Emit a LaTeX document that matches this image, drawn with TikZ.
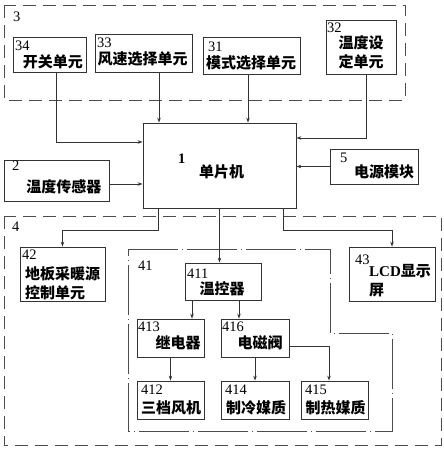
\documentclass[tikz,border=0pt]{standalone}
\usepackage{fontspec}
\setmainfont{Liberation Serif}
\newfontfamily\cjk{Noto Sans CJK SC}
\usetikzlibrary{arrows.meta,positioning,calc}

\begin{document}
\begin{tikzpicture}[x=1pt, y=-1pt,
    box/.style={draw=black!80, line width=0.8pt, inner sep=0pt},
    num/.style={anchor=west, inner sep=0pt, font=\fontsize{14.5}{14.5}\selectfont},
    txt/.style={inner sep=0pt, align=center, font=\cjk\bfseries\fontsize{15}{19}\selectfont},
    grp/.style={draw=black!70, line width=1pt, dash pattern=on 13pt off 7pt},
    subgrp/.style={draw=black!70, line width=0.9pt, dash pattern=on 50pt off 4pt on 1pt off 4pt},
    arr/.style={-{Stealth[length=5pt,width=3.5pt]}, draw=black!80, line width=0.7pt}
]
\useasboundingbox (0,0) rectangle (444,450);

% input group
\draw[grp] (4,5) rectangle (405,100);
\node[num] (n3) at (13,17) {3};
\node[box, minimum width=73pt, minimum height=35pt] (b34) at (49.5,54.5) {};
\node[num] (n34) at (15,46) {34};
\node[txt] (t34) at (53,62) {开关单元};
\node[box, minimum width=97pt, minimum height=38pt] (b33) at (143.5,53) {};
\node[num] (n33) at (97,43) {33};
\node[txt] (t33) at (142.5,59) {风速选择单元};
\node[box, minimum width=97pt, minimum height=37pt] (b31) at (251.5,55.5) {};
\node[num] (n31) at (208,47) {31};
\node[txt] (t31) at (251,63) {模式选择单元};
\node[box, minimum width=70pt, minimum height=54pt] (b32) at (361,47) {};
\node[num] (n32) at (327,27.5) {32};
\node[txt] (t32) at (361,52.5) {温度设\\定单元};

% controller
\node[box, minimum width=153pt, minimum height=85pt] (b1) at (219.5,165.5) {};
\node[num, font=\bfseries\fontsize{14.5}{14.5}\selectfont] (n1) at (178,159) {1};
\node[txt] (t1) at (221.5,172) {单片机};
\node[box, minimum width=105pt, minimum height=41pt] (b2) at (56.5,180.5) {};
\node[num] (n2) at (12,166) {2};
\node[txt] (t2) at (64,187) {温度传感器};
\node[box, minimum width=88pt, minimum height=35pt] (b5) at (374,166.5) {};
\node[num] (n5) at (340,158) {5};
\node[txt] (t5) at (384,172) {电源模块};

\draw[arr] ([xshift=6.5pt]b34.south) |- ([yshift=23.5pt]b1.west);
\draw[arr] ([xshift=15.5pt]b33.south) -- ([xshift=15.5pt]b33.south |- b1.north);
\draw[arr] ([xshift=-3.5pt]b31.south) -- ([xshift=-3.5pt]b31.south |- b1.north);
\draw[arr] ([xshift=5pt]b32.south) |- ([yshift=27.5pt]b1.east);
\draw[arr] ([yshift=-3.5pt]b2.east) -- ([yshift=-3.5pt]b2.east -| b1.west);
\draw[arr] (b5.west) -- (b5.west -| b1.east);

% output group
\draw[grp] (4,216) rectangle (441,445);
\node[num] (n4) at (12,227) {4};
\node[box, minimum width=85pt, minimum height=54pt] (b42) at (62.5,274) {};
\node[num] (n42) at (22,255) {42};
\node[txt, align=left, anchor=west] (t42) at (25,283.5) {地板采暖源\\控制单元};
\node[box, minimum width=86pt, minimum height=54pt] (b43) at (392,274) {};
\node[num] (n43) at (355,260) {43};
\node[txt, align=left, anchor=west] (t43) at (369,281) {{\rmfamily LCD}显示\\屏};

\draw[subgrp] (128,249) -- (330,249) -- (330,333) -- (392,333) -- (392,431) -- (128,431) -- cycle;
\node[num] (n41) at (138,265.5) {41};
\node[box, minimum width=76pt, minimum height=37pt] (b411) at (223,281.5) {};
\node[num] (n411) at (187,274) {411};
\node[txt] (t411) at (222,289) {温控器};
\node[box, minimum width=67pt, minimum height=38pt] (b413) at (170.5,338) {};
\node[num] (n413) at (138,327) {413};
\node[txt] (t413) at (178,343) {继电器};
\node[box, minimum width=68pt, minimum height=38pt] (b416) at (255,338) {};
\node[num] (n416) at (222,327) {416};
\node[txt] (t416) at (260,343) {电磁阀};
\node[box, minimum width=67pt, minimum height=38pt] (b412) at (170.5,400) {};
\node[num] (n412) at (141,390) {412};
\node[txt] (t412) at (171,408) {三档风机};
\node[box, minimum width=68pt, minimum height=38pt] (b414) at (255,400) {};
\node[num] (n414) at (225,390) {414};
\node[txt] (t414) at (256,408) {制冷媒质};
\node[box, minimum width=67pt, minimum height=38pt] (b415) at (334.5,400) {};
\node[num] (n415) at (305,390) {415};
\node[txt] (t415) at (335.5,408) {制热媒质};

\draw[arr] ([xshift=-61.5pt]b1.south) -- ++(0,22) -| (b42.north);
\draw[arr] (b1.south) -- (b1.south |- b411.north);
\draw[arr] ([xshift=63.5pt]b1.south) -- ++(0,22) -| (b43.north);
\draw[arr] ([xshift=-31pt]b411.south) -- ([xshift=-31pt]b411.south |- b413.north);
\draw[arr] ([xshift=16pt]b411.south) -- ([xshift=16pt]b411.south |- b416.north);
\draw[arr] (b413.south) -- (b412.north);
\draw[arr] (b416.south) -- (b414.north);
\draw[arr] ([yshift=-8pt]b416.east) -| ([xshift=-5.5pt]b415.north);
\end{tikzpicture}
\end{document}
